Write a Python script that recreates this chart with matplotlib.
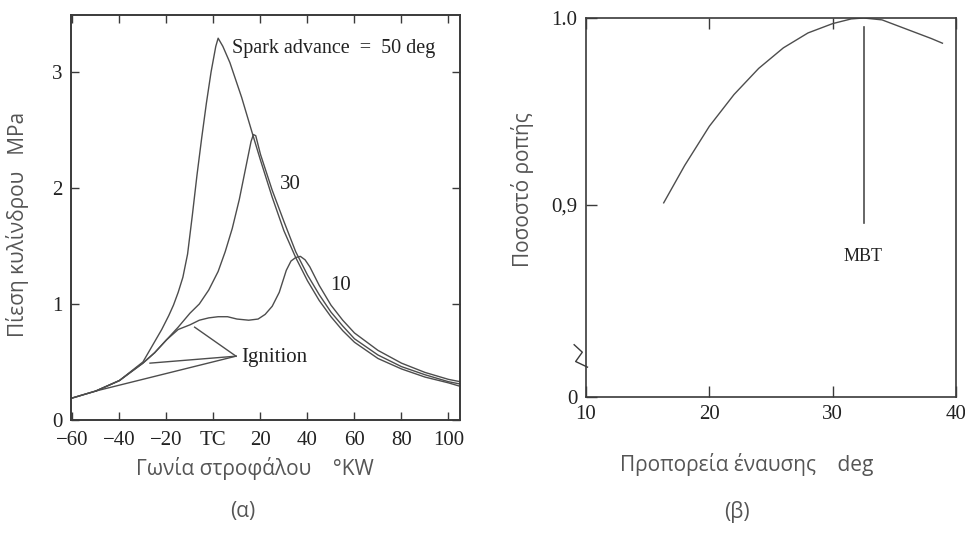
import matplotlib
matplotlib.use("Agg")
import matplotlib.pyplot as plt

# (a) cylinder pressure vs crank angle, three spark advances
deg_50 = [-60, -50, -40, -30, -26, -22, -19, -17, -15, -13, -11, -9, -7, -5, -3, -1, 1, 2, 4, 7,
          12, 17, 20, 25, 30, 35, 40, 45, 50, 55, 60, 70, 80, 90, 100, 105]
p_50 = [0.19, 0.25, 0.34, 0.50, 0.64, 0.78, 0.90, 0.99, 1.10, 1.23, 1.43, 1.76, 2.11, 2.43, 2.73, 3.0,
        3.22, 3.29, 3.22, 3.08, 2.78, 2.44, 2.24, 1.92, 1.63, 1.40, 1.20, 1.03, 0.89, 0.77, 0.67, 0.53,
        0.44, 0.37, 0.32, 0.29]

deg_30 = [-60, -50, -40, -30, -25, -20, -15, -10, -6, -2, 2, 5, 8, 11, 14, 16, 17, 18, 20, 25,
          30, 35, 40, 45, 50, 55, 60, 70, 80, 90, 100, 105]
p_30 = [0.19, 0.25, 0.34, 0.49, 0.58, 0.69, 0.80, 0.92, 1.00, 1.12, 1.28, 1.45, 1.65, 1.90, 2.2, 2.4,
        2.46, 2.45, 2.29, 1.98, 1.71, 1.45, 1.25, 1.08, 0.93, 0.81, 0.70, 0.56, 0.46, 0.39, 0.33, 0.31]

deg_10 = [-60, -50, -40, -30, -25, -20, -15, -10, -6, -2, 2, 6, 10, 15, 19, 22, 25, 28, 31, 33,
          35, 37, 39, 41, 45, 50, 55, 60, 70, 80, 90, 100, 105]
p_10 = [0.19, 0.25, 0.34, 0.49, 0.58, 0.69, 0.78, 0.82, 0.86, 0.88, 0.89, 0.89, 0.87, 0.86, 0.87,
        0.91, 0.98, 1.10, 1.29, 1.37, 1.40, 1.41, 1.38, 1.32, 1.16, 0.99, 0.86, 0.75, 0.60, 0.49, 0.41,
        0.35, 0.33]

ign_deg = [-8, -27, -50]
ign_p = [0.80, 0.49, 0.25]
ign_anchor = (9.6, 0.55)

x_ticks_a = [-60, -40, -20, 0, 20, 40, 60, 80, 100]
x_labels_a = ["\u221260", "\u221240", "\u221220", "TC", "20", "40", "60", "80", "100"]
y_ticks_a = [0, 1, 2, 3]

# (b) torque fraction vs spark advance
adv = [16.3, 18, 20, 22, 24, 26, 28, 30, 31.5, 32.5, 34, 36, 38, 38.9]
torque = [0.901, 0.921, 0.942, 0.959, 0.973, 0.984, 0.992, 0.997, 0.9995, 1.0, 0.999, 0.994, 0.989, 0.9865]
mbt = 32.5
y_break = 0.817
y_bottom_b = 0.797

x_ticks_b = [10, 20, 30, 40]
y_ticks_b = [y_bottom_b, 0.9, 1.0]
y_labels_b = ["0", "0,9", "1.0"]

LINE = "#4d4d4d"
SPINE = "#3a3a3a"
TXT = "#222222"
SERIF = ["Liberation Serif", "DejaVu Serif"]
SANS = ["Open Sans", "DejaVu Sans"]

W, H = 965, 536
fig = plt.figure(figsize=(W / 100, H / 100), dpi=100)


def box(l, t, r, b):
    return [l / W, 1 - b / H, (r - l) / W, (b - t) / H]


# ---- panel (a)
ax = fig.add_axes(box(71, 15, 460, 420))
for d, p in [(deg_50, p_50), (deg_30, p_30), (deg_10, p_10)]:
    ax.plot(d, p, color=LINE, lw=1.0)
for d, p in zip(ign_deg, ign_p):
    ax.plot([ign_anchor[0], d], [ign_anchor[1], p], color=LINE, lw=1.0)
ax.set_xlim(-60.6, 104.9)
ax.set_ylim(0, 3.49)
ax.set_xticks(x_ticks_a)
ax.set_xticklabels(x_labels_a)
ax.set_yticks(y_ticks_a)
ax.tick_params(direction="in", length=6, width=1, color=SPINE, top=True, right=True,
               labelsize=15, labelcolor=TXT)
ax.tick_params(axis="x", pad=8)
ax.tick_params(axis="y", pad=6)
for lab in ax.get_xticklabels() + ax.get_yticklabels():
    lab.set_family(SERIF)
for s in ax.spines.values():
    s.set_color(SPINE)
    s.set_linewidth(1.4)

ax.text(8, 3.2, "Spark advance  =  50 deg", family=SERIF, fontsize=14.5, color=TXT,
        va="center", ha="left")
ax.text(28.5, 2.03, "30", family=SERIF, fontsize=15, color=TXT, va="center")
ax.text(49.5, 1.16, "10", family=SERIF, fontsize=15, color=TXT, va="center")
ax.text(12, 0.54, "Ignition", family=SERIF, fontsize=15, color=TXT, va="center")

# ---- panel (b)
bx = fig.add_axes(box(586, 18, 956, 397))
bx.plot(adv, torque, color=LINE, lw=1.0)
bx.plot([mbt, mbt], [0.89, 0.995], color=LINE, lw=1.2)
bx.text(mbt, 0.872, "MBT", family=SERIF, fontsize=13, color=TXT, ha="center", va="center")
bx.set_xlim(10, 40)
bx.set_ylim(y_bottom_b, 1.0)
bx.set_xticks(x_ticks_b)
bx.set_yticks(y_ticks_b)
bx.set_yticklabels(y_labels_b)
bx.tick_params(direction="in", length=8, width=1, color=SPINE, top=True,
               labelsize=15, labelcolor=TXT, pad=6)
for lab in bx.get_xticklabels() + bx.get_yticklabels():
    lab.set_family(SERIF)
for s in bx.spines.values():
    s.set_color(SPINE)
    s.set_linewidth(1.2)
# axis break mark on the left spine
zig_x = [-0.032, -0.010, -0.028, 0.004]
zig_y = [y_break + 0.008, y_break + 0.004, y_break - 0.001, y_break - 0.004]
bx.plot(zig_x, zig_y, color=SPINE, lw=1.0, clip_on=False,
        transform=bx.get_yaxis_transform())

# ---- axis titles
lab_kw = dict(family=SANS, fontsize=15, color="#555555")
fig.text(18 / W, 1 - 224 / H, "Πίεση κυλίνδρου   MPa", rotation=90, ha="center", va="center", **lab_kw)
fig.text(255 / W, 1 - 468 / H, "Γωνία στροφάλου    °KW", ha="center", va="center", **lab_kw)
fig.text(523 / W, 1 - 190 / H, "Ποσοστό ροπής", rotation=90, ha="center", va="center", **lab_kw)
fig.text(747 / W, 1 - 464 / H, "Προπορεία έναυσης    deg", ha="center", va="center", **lab_kw)
fig.text(243 / W, 1 - 512 / H, "(α)", ha="center", va="center", **lab_kw)
fig.text(737 / W, 1 - 512 / H, "(β)", ha="center", va="center", **lab_kw)

fig.savefig("out.png", dpi=100, facecolor="white")
